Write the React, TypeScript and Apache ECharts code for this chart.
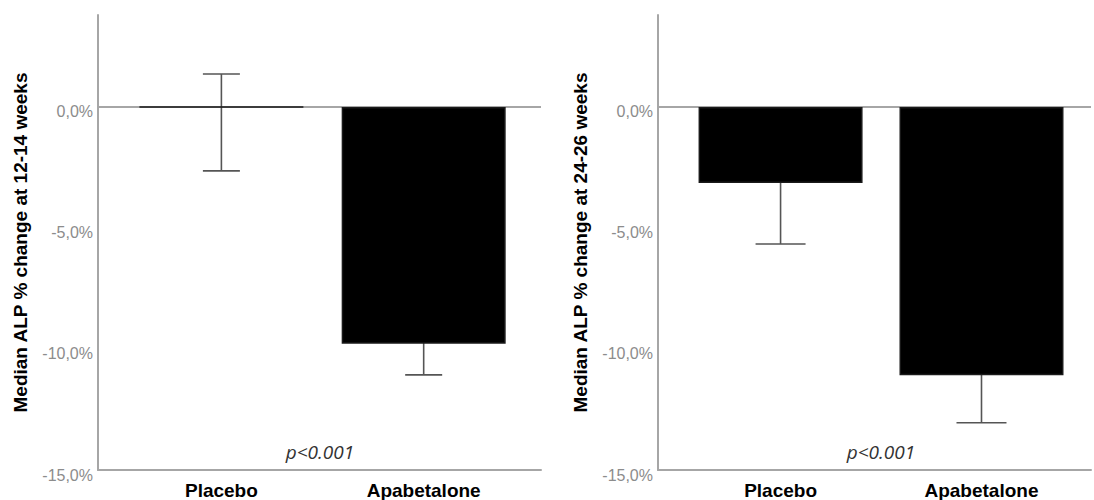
import React, { useEffect, useRef } from "react";
import * as echarts from "echarts";

// ---- data ----
const categories = ["Placebo", "Apabetalone"];
const catPos = [0, 1];
const median12 = [0.0, -9.78];
const errLow12 = [-2.64, -11.07];
const errHigh12 = [1.36, -8.5];
const median24 = [-3.14, -11.08];
const errLow24 = [-5.66, -13.05];
const errHigh24 = [-1.0, -9.0];
const yTitle12 = "Median ALP % change at 12-14 weeks";
const yTitle24 = "Median ALP % change at 24-26 weeks";
const pText = "p<0.001";

const FONT = "'Liberation Sans', Arial, sans-serif";
const AXIS_GRAY = "#a6a6a6";

function fmtY(v: number) {
  if (Math.abs(v % 5) > 1e-9) return "";
  return v.toFixed(1).replace(".", ",") + "%";
}
function fmtX(v: number) {
  for (let i = 0; i < catPos.length; i++) {
    if (Math.abs(v - catPos[i]) < 1e-6) return categories[i];
  }
  return "";
}

function xAxisFor(gridIndex: number, max: number) {
  return {
    type: "value",
    gridIndex,
    min: -0.61,
    max,
    interval: 0.01,
    axisLine: { onZero: false, lineStyle: { color: AXIS_GRAY, width: 2 } },
    axisTick: { show: false },
    splitLine: { show: false },
    axisLabel: {
      formatter: fmtX,
      fontFamily: FONT,
      fontWeight: "bold",
      fontSize: 19,
      color: "#000",
      margin: 11,
      showMinLabel: true,
      showMaxLabel: true,
    },
  };
}

function yAxisFor(gridIndex: number, name: string) {
  return {
    type: "value",
    gridIndex,
    min: -15,
    max: 3.8,
    interval: 5,
    name,
    nameLocation: "middle",
    nameGap: 68,
    nameTextStyle: { fontFamily: FONT, fontWeight: "bold", fontSize: 19, color: "#000" },
    axisLine: { show: true, onZero: false, lineStyle: { color: AXIS_GRAY, width: 2 } },
    axisTick: { show: false },
    splitLine: { show: false },
    axisLabel: {
      formatter: fmtY,
      fontFamily: FONT,
      fontSize: 16,
      color: "#8c8c8c",
      margin: 5,
      verticalAlign: "top",
      lineHeight: 10,
      showMaxLabel: false,
    },
  };
}

function barSeries(idx: number, vals: number[]) {
  return {
    type: "bar",
    xAxisIndex: idx,
    yAxisIndex: idx,
    barWidth: 164,
    z: 3,
    itemStyle: { color: "#000", borderColor: "#1a1a1a", borderWidth: 1.5 },
    data: vals.map((v, i) => [catPos[i], v]),
    markLine: {
      silent: true,
      symbol: "none",
      z: 1,
      label: { show: false },
      lineStyle: { color: AXIS_GRAY, width: 2, type: "solid" },
      data: [{ yAxis: 0 }],
    },
  };
}

function errSeries(idx: number, lo: number[], hi: number[], capHalf: number) {
  return {
    type: "custom",
    xAxisIndex: idx,
    yAxisIndex: idx,
    z: 2,
    data: catPos.map((x, i) => [x, lo[i], hi[i]]),
    renderItem: (params: any, api: any) => {
      const x = api.value(0);
      const pLo = api.coord([x, api.value(1)]);
      const pHi = api.coord([x, api.value(2)]);
      const style = { stroke: "#555", lineWidth: 1.6 };
      return {
        type: "group",
        children: [
          { type: "line", shape: { x1: pLo[0], y1: pLo[1], x2: pHi[0], y2: pHi[1] }, style },
          { type: "line", shape: { x1: pLo[0] - capHalf, y1: pLo[1], x2: pLo[0] + capHalf, y2: pLo[1] }, style },
          { type: "line", shape: { x1: pHi[0] - capHalf, y1: pHi[1], x2: pHi[0] + capHalf, y2: pHi[1] }, style },
        ],
      };
    },
  };
}

function pLabel(x: number) {
  return {
    type: "text",
    x,
    y: 452,
    style: {
      text: pText,
      fontFamily: "'Open Sans', sans-serif",
      fontStyle: "italic",
      fontSize: 19,
      fill: "#333",
      textAlign: "center",
      textVerticalAlign: "middle",
    },
  };
}

export default function App() {
  const ref = useRef<HTMLDivElement>(null);
  useEffect(() => {
    if (!ref.current) return;
    const chart = echarts.init(ref.current, undefined, { renderer: "svg" });
    chart.setOption({
      animation: false,
      backgroundColor: "#fff",
      grid: [
        { left: 98, top: 15, width: 443, height: 458 },
        { left: 658, top: 15, width: 436, height: 458 },
      ],
      xAxis: [xAxisFor(0, 1.58), xAxisFor(1, 1.545)],
      yAxis: [yAxisFor(0, yTitle12), yAxisFor(1, yTitle24)],
      series: [
        barSeries(0, median12),
        errSeries(0, errLow12, errHigh12, 18.5),
        barSeries(1, median24),
        errSeries(1, errLow24, errHigh24, 25),
      ],
      graphic: [pLabel(320), pLabel(881)],
    });
    return () => chart.dispose();
  }, []);
  return (
    <div
      ref={ref}
      style={{ position: "absolute", left: 0, top: 0, width: 1094, height: 500 }}
    />
  );
}
